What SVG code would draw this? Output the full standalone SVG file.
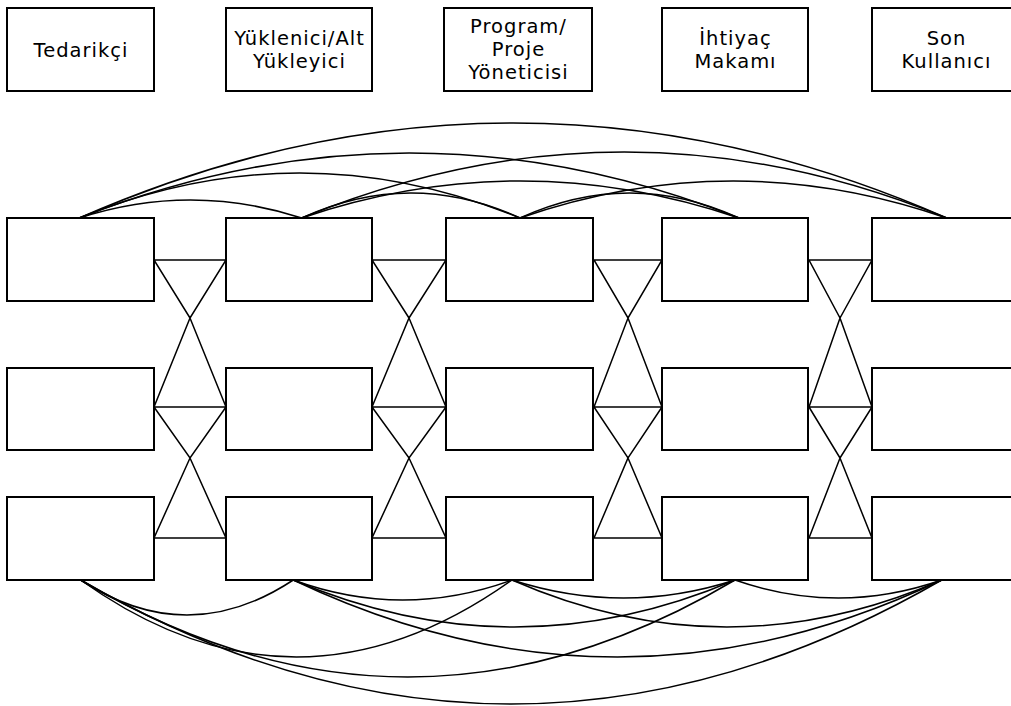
<svg xmlns="http://www.w3.org/2000/svg" width="1011" height="706" viewBox="0 0 1011 706">
  <style>
    .box { fill: #ffffff; stroke: #000000; stroke-width: 2; }
    .lbl { font-family: "DejaVu Sans", "Noto Sans", sans-serif; font-size: 19.5px; letter-spacing: 1px; fill: #000000; text-anchor: middle; }
    .arc { fill: none; stroke: #000000; stroke-width: 1.5; }
    .tri { fill: none; stroke: #000000; stroke-width: 1.5; stroke-linejoin: miter; }
  </style>
  <rect width="1011" height="706" fill="#ffffff"/>

  <!-- role headers -->
  <g id="hdr-tedarikci">
    <rect class="box" x="7" y="8" width="147" height="83"/>
    <text class="lbl" x="81" y="57">Tedarikçi</text>
  </g>
  <g id="hdr-yuklenici">
    <rect class="box" x="226" y="8" width="146" height="83"/>
    <text class="lbl" y="45"><tspan x="299.5">Yüklenici/Alt</tspan><tspan x="299.5" dy="23">Yükleyici</tspan></text>
  </g>
  <g id="hdr-program">
    <rect class="box" x="444" y="8" width="148" height="83"/>
    <text class="lbl" y="33"><tspan x="518.5">Program/</tspan><tspan x="518.5" dy="23">Proje</tspan><tspan x="518.5" dy="23">Yöneticisi</tspan></text>
  </g>
  <g id="hdr-ihtiyac">
    <rect class="box" x="662" y="8" width="146" height="83"/>
    <text class="lbl" y="45"><tspan x="735.5">İhtiyaç</tspan><tspan x="735.5" dy="23">Makamı</tspan></text>
  </g>
  <g id="hdr-son">
    <rect class="box" x="872" y="8" width="148" height="83"/>
    <text class="lbl" y="45"><tspan x="946.5">Son</tspan><tspan x="946.5" dy="23">Kullanıcı</tspan></text>
  </g>

  <!-- connectors -->
  <g id="connectors">
    <!-- upper links between top-row nodes -->
    <path class="arc" d="M79.3,218 Q190.5,182 301.7,218"/>
    <path class="arc" d="M79.3,218 Q299.6,128 520,218"/>
    <path class="arc" d="M79.3,218 Q409.2,88 739,218"/>
    <path class="arc" d="M79.3,218 Q513,28 946.7,218"/>
    <path class="arc" d="M301.7,218 Q410.8,168 520,218"/>
    <path class="arc" d="M301.7,218 Q520.3,144 739,218"/>
    <path class="arc" d="M301.7,218 Q624.2,86 946.7,218"/>
    <path class="arc" d="M520,218 Q629.5,168 739,218"/>
    <path class="arc" d="M520,218 Q733.3,144 946.7,218"/>

    <!-- lower links between bottom-row nodes -->
    <path class="arc" d="M80.7,580 Q187,650 293.3,580"/>
    <path class="arc" d="M80.7,580 Q296.3,734 512,580"/>
    <path class="arc" d="M80.7,580 Q407.8,774 735,580"/>
    <path class="arc" d="M80.7,580 Q511.2,828 941.7,580"/>
    <path class="arc" d="M293.3,580 Q402.6,620 512,580"/>
    <path class="arc" d="M293.3,580 Q514.1,674 735,580"/>
    <path class="arc" d="M293.3,580 Q617.5,734 941.7,580"/>
    <path class="arc" d="M512,580 Q623.5,616 735,580"/>
    <path class="arc" d="M512,580 Q726.8,674 941.7,580"/>
    <path class="arc" d="M735,580 Q838.3,616 941.7,580"/>

    <!-- hourglass links between neighbouring columns -->
    <path class="tri" d="M154,260 H226 L190,318 Z M190,318 L226,407 H154 Z M154,407 L190,458 L226,407 M190,458 L226,538 H154 Z"/>
    <path class="tri" d="M372,260 H446 L409,318 Z M409,318 L446,407 H372 Z M372,407 L409,458 L446,407 M409,458 L446,538 H372 Z"/>
    <path class="tri" d="M594,260 H662 L628,318 Z M628,318 L662,407 H594 Z M594,407 L628,458 L662,407 M628,458 L662,538 H594 Z"/>
    <path class="tri" d="M809,260 H872 L840,318 Z M840,318 L872,407 H809 Z M809,407 L840,458 L872,407 M840,458 L872,538 H809 Z"/>
  </g>

  <!-- grid nodes: column 1 -->
  <g id="n-1-1"><rect class="box" x="7" y="218" width="147" height="83"/></g>
  <g id="n-1-2"><rect class="box" x="7" y="368" width="147" height="82"/></g>
  <g id="n-1-3"><rect class="box" x="7" y="497" width="147" height="83"/></g>
  <!-- column 2 -->
  <g id="n-2-1"><rect class="box" x="226" y="218" width="146" height="83"/></g>
  <g id="n-2-2"><rect class="box" x="226" y="368" width="146" height="82"/></g>
  <g id="n-2-3"><rect class="box" x="226" y="497" width="146" height="83"/></g>
  <!-- column 3 -->
  <g id="n-3-1"><rect class="box" x="446" y="218" width="147" height="83"/></g>
  <g id="n-3-2"><rect class="box" x="446" y="368" width="147" height="82"/></g>
  <g id="n-3-3"><rect class="box" x="446" y="497" width="147" height="83"/></g>
  <!-- column 4 -->
  <g id="n-4-1"><rect class="box" x="662" y="218" width="146" height="83"/></g>
  <g id="n-4-2"><rect class="box" x="662" y="368" width="146" height="82"/></g>
  <g id="n-4-3"><rect class="box" x="662" y="497" width="146" height="83"/></g>
  <!-- column 5 -->
  <g id="n-5-1"><rect class="box" x="872" y="218" width="148" height="83"/></g>
  <g id="n-5-2"><rect class="box" x="872" y="368" width="148" height="82"/></g>
  <g id="n-5-3"><rect class="box" x="872" y="497" width="148" height="83"/></g>
</svg>
